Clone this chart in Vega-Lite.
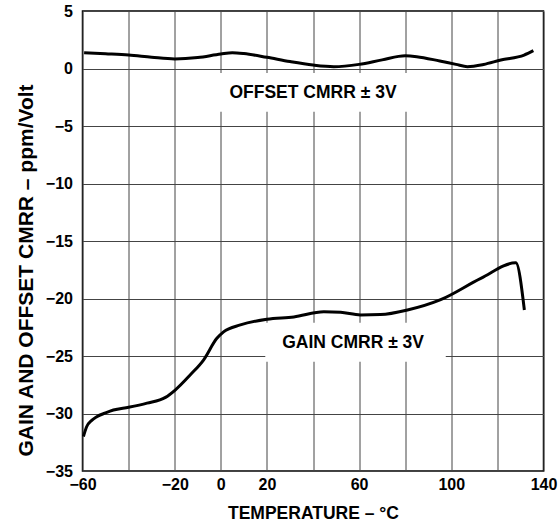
{
  "$schema": "https://vega.github.io/schema/vega-lite/v6.json",
  "autosize": {"type": "none"},
  "padding": {"left": 82.5, "top": 11, "right": 14.5, "bottom": 51},
  "width": 461,
  "height": 460,
  "background": "white",
  "config": {
    "view": {"stroke": "#000", "strokeWidth": 1.5},
    "font": "Liberation Sans",
    "axis": {
      "labelFont": "Liberation Sans",
      "labelFontWeight": "bold",
      "labelFontSize": 16,
      "labelColor": "#000",
      "titleFont": "Liberation Sans",
      "titleFontWeight": "bold",
      "titleFontSize": 17.5,
      "titleColor": "#000",
      "grid": true,
      "gridColor": "#444",
      "gridWidth": 1,
      "gridOpacity": 1,
      "ticks": false,
      "domain": false
    }
  },
  "datasets": {
    "curves": [
      {"series": "offset", "t": -59.3, "v": 1.37},
      {"series": "offset", "t": -50, "v": 1.28},
      {"series": "offset", "t": -40, "v": 1.17},
      {"series": "offset", "t": -30, "v": 0.98},
      {"series": "offset", "t": -20, "v": 0.83},
      {"series": "offset", "t": -10, "v": 0.95},
      {"series": "offset", "t": 0, "v": 1.26},
      {"series": "offset", "t": 5, "v": 1.37},
      {"series": "offset", "t": 10, "v": 1.3},
      {"series": "offset", "t": 20, "v": 0.97},
      {"series": "offset", "t": 30, "v": 0.6},
      {"series": "offset", "t": 40, "v": 0.3},
      {"series": "offset", "t": 49, "v": 0.16},
      {"series": "offset", "t": 60, "v": 0.36},
      {"series": "offset", "t": 70, "v": 0.75},
      {"series": "offset", "t": 80, "v": 1.1},
      {"series": "offset", "t": 85, "v": 1.03},
      {"series": "offset", "t": 95, "v": 0.65},
      {"series": "offset", "t": 102, "v": 0.36},
      {"series": "offset", "t": 107, "v": 0.16},
      {"series": "offset", "t": 114, "v": 0.35},
      {"series": "offset", "t": 121.5, "v": 0.74},
      {"series": "offset", "t": 131.6, "v": 1.17},
      {"series": "offset", "t": 135.6, "v": 1.55},
      {"series": "gain", "t": -59.6, "v": -32.0},
      {"series": "gain", "t": -58.2, "v": -31.15},
      {"series": "gain", "t": -56, "v": -30.6},
      {"series": "gain", "t": -53.8, "v": -30.28},
      {"series": "gain", "t": -50, "v": -29.95},
      {"series": "gain", "t": -46.6, "v": -29.7},
      {"series": "gain", "t": -40, "v": -29.46},
      {"series": "gain", "t": -32, "v": -29.1},
      {"series": "gain", "t": -24, "v": -28.6},
      {"series": "gain", "t": -19.8, "v": -27.96},
      {"series": "gain", "t": -13.3, "v": -26.65},
      {"series": "gain", "t": -7.5, "v": -25.35},
      {"series": "gain", "t": -1.7, "v": -23.46},
      {"series": "gain", "t": 1.2, "v": -22.9},
      {"series": "gain", "t": 8.5, "v": -22.3},
      {"series": "gain", "t": 20, "v": -21.8},
      {"series": "gain", "t": 31.7, "v": -21.6},
      {"series": "gain", "t": 44.7, "v": -21.15},
      {"series": "gain", "t": 52, "v": -21.2},
      {"series": "gain", "t": 60.6, "v": -21.43},
      {"series": "gain", "t": 69.3, "v": -21.4},
      {"series": "gain", "t": 81, "v": -21.0},
      {"series": "gain", "t": 95.4, "v": -20.1},
      {"series": "gain", "t": 112.8, "v": -18.25},
      {"series": "gain", "t": 128, "v": -16.9},
      {"series": "gain", "t": 131.7, "v": -21.0}
    ],
    "boxes": [
      {"x1": -4.5, "x2": 84.5, "y1": -0.4, "y2": -3.75},
      {"x1": 19.3, "x2": 97.6, "y1": -22.1, "y2": -25.5}
    ],
    "labels": [
      {"t": 40, "v": -2.13, "label": "OFFSET CMRR ± 3V"},
      {"t": 57.4, "v": -23.9, "label": "GAIN CMRR ± 3V"}
    ]
  },
  "layer": [
    {
      "data": {"name": "boxes"},
      "mark": {"type": "rect", "fill": "white", "strokeWidth": 0},
      "encoding": {
        "x": {
          "field": "x1", "type": "quantitative",
          "scale": {"domain": [-60, 140], "nice": false, "zero": false},
          "axis": {
            "values": [-60, -40, -20, 0, 20, 40, 60, 80, 100, 120, 140],
            "labelExpr": "indexof([-40, 40, 80, 120], datum.value) >= 0 ? '' : datum.label",
            "labelPadding": 5,
            "labelFlush": false,
            "labelOverlap": false,
            "title": "TEMPERATURE – °C",
            "titlePadding": 12
          }
        },
        "x2": {"field": "x2"},
        "y": {
          "field": "y1", "type": "quantitative",
          "scale": {"domain": [-35, 5], "nice": false, "zero": false},
          "axis": {
            "values": [-35, -30, -25, -20, -15, -10, -5, 0, 5],
            "labelPadding": 10,
            "labelFlush": false,
            "labelOverlap": false,
            "title": "GAIN AND OFFSET CMRR – ppm/Volt",
            "titleFontSize": 21,
            "titleBaseline": "alphabetic",
            "titleX": -50,
            "titleY": 259
          }
        },
        "y2": {"field": "y2"}
      }
    },
    {
      "data": {"name": "curves"},
      "mark": {"type": "line", "color": "#000", "strokeWidth": 3, "interpolate": "monotone"},
      "encoding": {
        "x": {"field": "t", "type": "quantitative"},
        "y": {"field": "v", "type": "quantitative"},
        "detail": {"field": "series"}
      }
    },
    {
      "data": {"name": "labels"},
      "mark": {"type": "text", "font": "Liberation Sans", "fontWeight": "bold", "fontSize": 17.5, "color": "#000", "align": "center", "baseline": "middle"},
      "encoding": {
        "x": {"field": "t", "type": "quantitative"},
        "y": {"field": "v", "type": "quantitative"},
        "text": {"field": "label"}
      }
    }
  ]
}
